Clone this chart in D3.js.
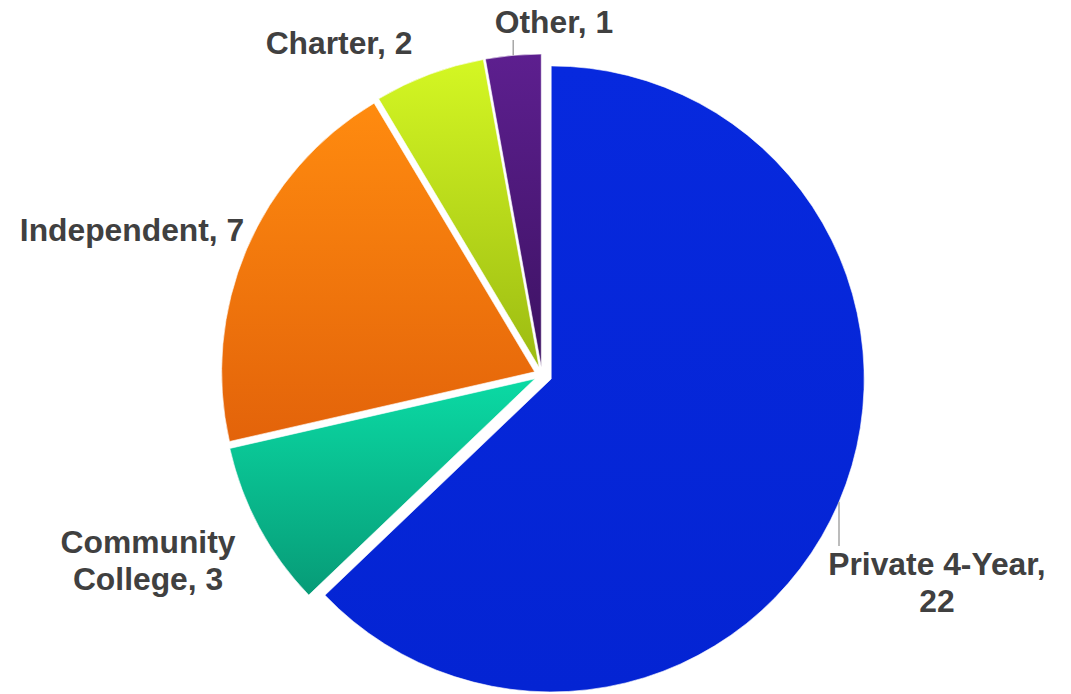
<!DOCTYPE html>
<html>
<head>
<meta charset="utf-8">
<script src="https://cdn.jsdelivr.net/npm/d3@7"></script>
<style>
  html, body { margin: 0; padding: 0; background: #fff; }
  svg { display: block; }
</style>
</head>
<body>
<svg id="chart" width="1071" height="694"></svg>
<script>
// Institution types and number of schools in each
const categories = ["Private 4-Year", "Community College", "Independent", "Charter", "Other"];
const counts = [22, 3, 7, 2, 1];

// Vertical gradient stops for each slice (top, bottom)
const palette = {
  "Private 4-Year":    ["#0729de", "#0424d3"],
  "Community College": ["#0bdaa4", "#079b77"],
  "Independent":       ["#ff8b0f", "#e3630a"],
  "Charter":           ["#d4f723", "#9cbb12"],
  "Other":             ["#5d1f8f", "#3c1262"]
};

// Label anchor (centre x, first baseline) relative to the pie centre, and leader-line flags
const labelLayout = {
  "Private 4-Year":    { dx: 395,  dy: 200,  leader: true },
  "Community College": { dx: -394, dy: 178,  leader: false },
  "Independent":       { dx: -410, dy: -134, leader: false },
  "Charter":           { dx: -203, dy: -321, leader: false },
  "Other":             { dx: 12,   dy: -342, leader: true }
};

const W = 1071, H = 694;
const cx = 542, cy = 375, R = 313;
const fontSize = 31.8, lineHeight = 37, wrapWidth = 235;

const data = categories.map((c, i) => ({ category: c, count: counts[i] }));

const svg = d3.select("#chart");
const defs = svg.append("defs");

data.forEach((d, i) => {
  const g = defs.append("linearGradient")
    .attr("id", "grad" + i)
    .attr("x1", 0).attr("y1", 0).attr("x2", 0).attr("y2", 1);
  g.append("stop").attr("offset", "0%").attr("stop-color", palette[d.category][0]);
  g.append("stop").attr("offset", "100%").attr("stop-color", palette[d.category][1]);
});

const pie = d3.pie().sort(null).value(d => d.count).startAngle(0).endAngle(2 * Math.PI);
const arcs = pie(data);
const arc = d3.arc().innerRadius(0).outerRadius(R);

// Every slice is pulled slightly away from the centre; the large one a bit further
const explode = d => (d.data.category === "Private 4-Year" ? 10 : 8);
const midAngle = d => (d.startAngle + d.endAngle) / 2;
const sliceOffset = d => {
  const a = midAngle(d), e = explode(d);
  return [Math.sin(a) * e, -Math.cos(a) * e];
};

const root = svg.append("g").attr("transform", `translate(${cx},${cy})`);

root.selectAll("path.slice")
  .data(arcs)
  .join("path")
  .attr("class", "slice")
  .attr("transform", d => { const o = sliceOffset(d); return `translate(${o[0]},${o[1]})`; })
  .attr("d", arc)
  .attr("fill", (d, i) => `url(#grad${i})`)
  .attr("stroke", "#ffffff")
  .attr("stroke-width", 1)
  .attr("stroke-opacity", 0.6);

// Labels
const labels = root.selectAll("text.label")
  .data(arcs)
  .join("text")
  .attr("class", "label")
  .attr("text-anchor", "middle")
  .attr("font-family", "'Liberation Sans', Arial, Helvetica, sans-serif")
  .attr("font-weight", "bold")
  .attr("font-size", fontSize)
  .attr("fill", "#404040")
  .attr("x", d => labelLayout[d.data.category].dx)
  .attr("y", d => labelLayout[d.data.category].dy);

// Write "Category, value" and wrap into lines no wider than wrapWidth
labels.each(function(d) {
  const t = d3.select(this);
  const x = labelLayout[d.data.category].dx;
  const words = `${d.data.category}, ${d.data.count}`.split(" ");
  let line = [];
  let tspan = t.append("tspan").attr("x", x).attr("dy", 0);
  words.forEach(w => {
    line.push(w);
    tspan.text(line.join(" "));
    if (tspan.node().getComputedTextLength() > wrapWidth && line.length > 1) {
      line.pop();
      tspan.text(line.join(" "));
      line = [w];
      tspan = t.append("tspan").attr("x", x).attr("dy", lineHeight).text(w);
    }
  });
});

// Leader lines: from the slice rim at its mid-angle, straight up/down to the label box
labels.each(function(d) {
  const lay = labelLayout[d.data.category];
  if (!lay.leader) return;
  const o = sliceOffset(d);
  const a = midAngle(d);
  const x0 = o[0] + Math.sin(a) * R;
  const y0 = o[1] - Math.cos(a) * R;
  const bb = this.getBBox();
  const y1 = y0 > bb.y + bb.height ? bb.y + bb.height : bb.y;
  root.append("line")
    .attr("x1", x0).attr("y1", y0)
    .attr("x2", x0).attr("y2", y1)
    .attr("stroke", "#a6a6a6")
    .attr("stroke-width", 1.5);
});
</script>
</body>
</html>
